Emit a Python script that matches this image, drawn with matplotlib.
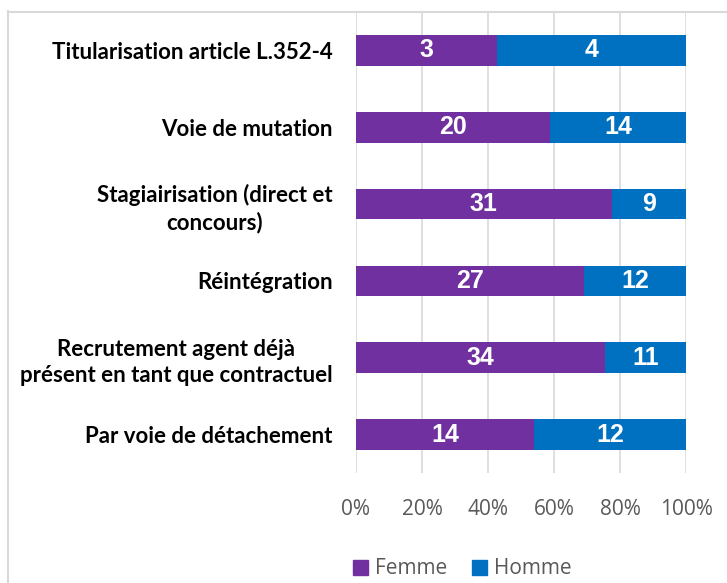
import numpy as np
import matplotlib.pyplot as plt
from matplotlib.lines import Line2D
from matplotlib.patches import Patch

categories = [
    "Titularisation article L.352-4",
    "Voie de mutation",
    "Stagiairisation (direct et\nconcours)",
    "Réintégration",
    "Recrutement agent déjà\nprésent en tant que contractuel",
    "Par voie de détachement",
]
femme = np.array([3, 20, 31, 27, 34, 14])
homme = np.array([4, 14, 9, 12, 11, 12])
xticks = [0, 20, 40, 60, 80, 100]

PURPLE = "#7030A0"
BLUE = "#0070C0"
GRID = "#D9D9D9"
GREY = "#595959"

total = femme + homme
pf = femme / total * 100
ph = homme / total * 100
y = np.arange(len(categories))

fig = plt.figure(figsize=(7.27, 5.83), dpi=100)
ax = fig.add_axes([356 / 727, 1 - 473 / 583, 330 / 727, 461 / 583])

ax.barh(y, pf, height=0.4, color=PURPLE, zorder=3)
ax.barh(y, ph, left=pf, height=0.4, color=BLUE, zorder=3)

val_font = dict(ha="center", va="center", color="white", fontsize=18,
                fontweight="bold", family=["Liberation Sans", "DejaVu Sans"], zorder=4)
for i in range(len(categories)):
    ax.text(pf[i] / 2, y[i], str(femme[i]), **val_font)
    ax.text(pf[i] + ph[i] / 2, y[i], str(homme[i]), **val_font)

ax.set_ylim(len(categories) - 0.5, -0.5)
ax.set_xlim(0, 100)
ax.set_yticks(y)
ax.set_yticklabels(categories, fontsize=16, fontweight="bold",
                   family=["Lato", "DejaVu Sans"],
                   multialignment="center", linespacing=1.3)
ax.set_xticks(xticks)
ax.set_xticklabels([f"{t}%" for t in xticks], fontsize=15, color=GREY,
                   family=["Open Sans", "DejaVu Sans"])
ax.tick_params(axis="both", length=0)
ax.tick_params(axis="x", pad=19)
ax.tick_params(axis="y", pad=17)
for s in ax.spines.values():
    s.set_visible(False)
ax.grid(axis="x", color=GRID, linewidth=1.2, zorder=0)

# chart border (light grey, cut at the right and bottom)
fig.add_artist(Line2D([7.5 / 727, 7.5 / 727], [0, 1 - 11 / 583],
                      color=GRID, linewidth=1.5, transform=fig.transFigure))
fig.add_artist(Line2D([7.5 / 727, 1], [1 - 11.5 / 583, 1 - 11.5 / 583],
                      color=GRID, linewidth=1.5, transform=fig.transFigure))

handles = [Patch(color=PURPLE, label="Femme"), Patch(color=BLUE, label="Homme")]
fig.legend(handles=handles, loc="center", bbox_to_anchor=(462.5 / 727, 1 - 569 / 583),
           ncol=2, frameon=False, handlelength=0.7, handleheight=0.7,
           handletextpad=0.35, columnspacing=1.2,
           prop={"family": ["Open Sans", "DejaVu Sans"], "size": 15},
           labelcolor=GREY)

fig.savefig("out.png", dpi=100)
